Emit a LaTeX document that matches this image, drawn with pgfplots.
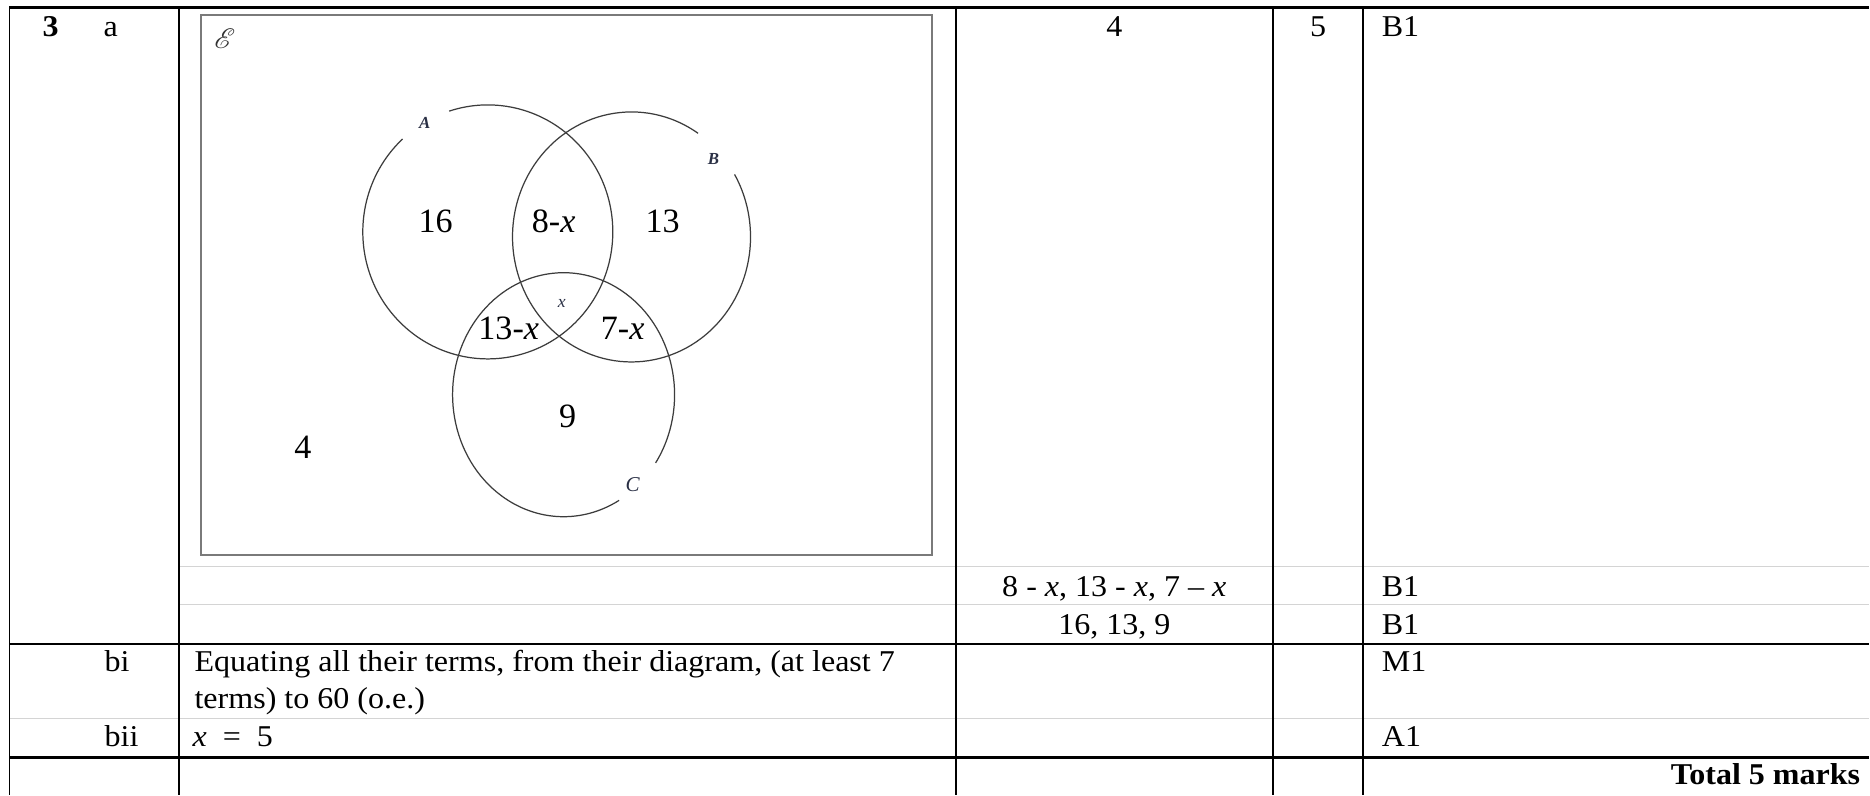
\documentclass[border=0pt]{standalone}
\usepackage{pgfplots}
\pgfplotsset{compat=1.18}
\usepackage{fontspec}
\usepackage{mathrsfs}
\setmainfont{Liberation Serif}[FakeStretch=1.06]
\newfontfamily\venn{Liberation Serif}
\definecolor{gridgray}{HTML}{D4D4D4}
\definecolor{boxgray}{HTML}{7A7A7A}
\definecolor{circ}{HTML}{3C3C3C}
\definecolor{lbl}{HTML}{2A3045}
\begin{document}
\begin{tikzpicture}
\begin{axis}[
  x=0.01cm, y=0.01cm,
  xmin=0, xmax=1870, ymin=0, ymax=795,
  hide axis, clip=false, scale only axis,
]
\path[fill=white] (axis cs:0,0) rectangle (axis cs:1870,795);

% table rules, light
\draw[gridgray, line width=0.45pt] (axis cs:179,228) -- (axis cs:1870,228);
\draw[gridgray, line width=0.45pt] (axis cs:179,190) -- (axis cs:1870,190);
\draw[gridgray, line width=0.45pt] (axis cs:9.5,76) -- (axis cs:1870,76);
% table rules, black
\draw[black, line width=0.65pt] (axis cs:9.5,787.5) -- (axis cs:1870,787.5);
\draw[black, line width=0.6pt] (axis cs:9.5,151) -- (axis cs:1870,151);
\draw[black, line width=0.6pt] (axis cs:9.5,37) -- (axis cs:1870,37);
\draw[black, line width=0.55pt] (axis cs:9.5,788) -- (axis cs:9.5,0);
\draw[black, line width=0.55pt] (axis cs:179,788) -- (axis cs:179,0);
\draw[black, line width=0.55pt] (axis cs:957,788) -- (axis cs:957,0);
\draw[black, line width=0.55pt] (axis cs:1274,788) -- (axis cs:1274,0);
\draw[black, line width=0.55pt] (axis cs:1364,788) -- (axis cs:1364,0);

% venn box
\draw[boxgray, line width=0.55pt] (axis cs:201.5,240) rectangle (axis cs:933,780);

% circles with gaps for labels
\draw[circ, line width=0.35pt] (axis cs:402.8,655.9)
  arc[start angle=133, end angle=468, x radius=1.25cm, y radius=1.27cm];
\draw[circ, line width=0.35pt] (axis cs:698.5,661.6)
  arc[start angle=56, end angle=390, x radius=1.19cm, y radius=1.25cm];
\draw[circ, line width=0.35pt] (axis cs:656.0,331.8)
  arc[start angle=-34, end angle=300, x radius=1.11cm, y radius=1.22cm];

% venn text
\node[anchor=base, inner sep=0pt, font=\venn\fontsize{9.7}{11}\selectfont] at (axis cs:436,562) {16};
\node[anchor=base, inner sep=0pt, font=\venn\fontsize{9.7}{11}\selectfont] at (axis cs:554,562) {8-\textit{x}};
\node[anchor=base, inner sep=0pt, font=\venn\fontsize{9.7}{11}\selectfont] at (axis cs:663,562) {13};
\node[anchor=base, inner sep=0pt, font=\venn\fontsize{9.7}{11}\selectfont] at (axis cs:509,455) {13-\textit{x}};
\node[anchor=base, inner sep=0pt, font=\venn\fontsize{9.7}{11}\selectfont] at (axis cs:623,455) {7-\textit{x}};
\node[anchor=base, inner sep=0pt, font=\venn\fontsize{9.7}{11}\selectfont] at (axis cs:568,367) {9};
\node[anchor=base, inner sep=0pt, font=\venn\fontsize{9.7}{11}\selectfont] at (axis cs:303,336) {4};
\node[anchor=base, inner sep=0pt, text=lbl, font=\venn\itshape\fontsize{5}{6}\selectfont] at (axis cs:562,487) {x};
\node[anchor=base, inner sep=0pt, text=lbl, font=\venn\bfseries\itshape\fontsize{4.8}{6}\selectfont] at (axis cs:425,666) {A};
\node[anchor=base, inner sep=0pt, text=lbl, font=\venn\bfseries\itshape\fontsize{4.8}{6}\selectfont] at (axis cs:714,630) {B};
\node[anchor=base, inner sep=0pt, text=lbl, font=\venn\itshape\fontsize{6}{7}\selectfont] at (axis cs:633,303) {C};
\node[inner sep=0pt, text=boxgray!40!black, font=\fontsize{8.5}{9}\selectfont] at (axis cs:225,756) {$\mathscr{E}$};

% table text
\node[anchor=base west, inner sep=0pt, font=\fontsize{8.6}{10.8}\selectfont\bfseries] at (axis cs:42,758) {3};
\node[anchor=base west, inner sep=0pt, font=\fontsize{8.6}{10.8}\selectfont] at (axis cs:103,758) {a};
\node[anchor=base, inner sep=0pt, font=\fontsize{8.6}{10.8}\selectfont] at (axis cs:1115,758) {4};
\node[anchor=base, inner sep=0pt, font=\fontsize{8.6}{10.8}\selectfont] at (axis cs:1319,758) {5};
\node[anchor=base west, inner sep=0pt, font=\fontsize{8.6}{10.8}\selectfont] at (axis cs:1382,758) {B1};
\node[anchor=base, inner sep=0pt, font=\fontsize{8.6}{10.8}\selectfont] at (axis cs:1115,198) {8 - \textit{x}, 13 - \textit{x}, 7 -- \textit{x}};
\node[anchor=base west, inner sep=0pt, font=\fontsize{8.6}{10.8}\selectfont] at (axis cs:1382,198) {B1};
\node[anchor=base, inner sep=0pt, font=\fontsize{8.6}{10.8}\selectfont] at (axis cs:1115,160) {16, 13, 9};
\node[anchor=base west, inner sep=0pt, font=\fontsize{8.6}{10.8}\selectfont] at (axis cs:1382,160) {B1};
\node[anchor=base west, inner sep=0pt, font=\fontsize{8.6}{10.8}\selectfont] at (axis cs:104,123) {bi};
\node[anchor=base west, inner sep=0pt, font=\fontsize{8.6}{10.8}\selectfont] at (axis cs:194,123) {Equating all their terms, from their diagram, (at least 7};
\node[anchor=base west, inner sep=0pt, font=\fontsize{8.6}{10.8}\selectfont] at (axis cs:194,86) {terms) to 60 (o.e.)};
\node[anchor=base west, inner sep=0pt, font=\fontsize{8.6}{10.8}\selectfont] at (axis cs:1382,123) {M1};
\node[anchor=base west, inner sep=0pt, font=\fontsize{8.6}{10.8}\selectfont] at (axis cs:104,48) {bii};
\node[anchor=base west, inner sep=0pt, font=\fontsize{8.6}{10.8}\selectfont] at (axis cs:192,48) {\textit{x}\ \ =\ \ 5};
\node[anchor=base west, inner sep=0pt, font=\fontsize{8.6}{10.8}\selectfont] at (axis cs:1382,48) {A1};
\node[anchor=base east, inner sep=0pt, font=\fontsize{8.6}{10.8}\selectfont\bfseries] at (axis cs:1862,10) {Total 5 marks};
\end{axis}
\end{tikzpicture}
\end{document}
